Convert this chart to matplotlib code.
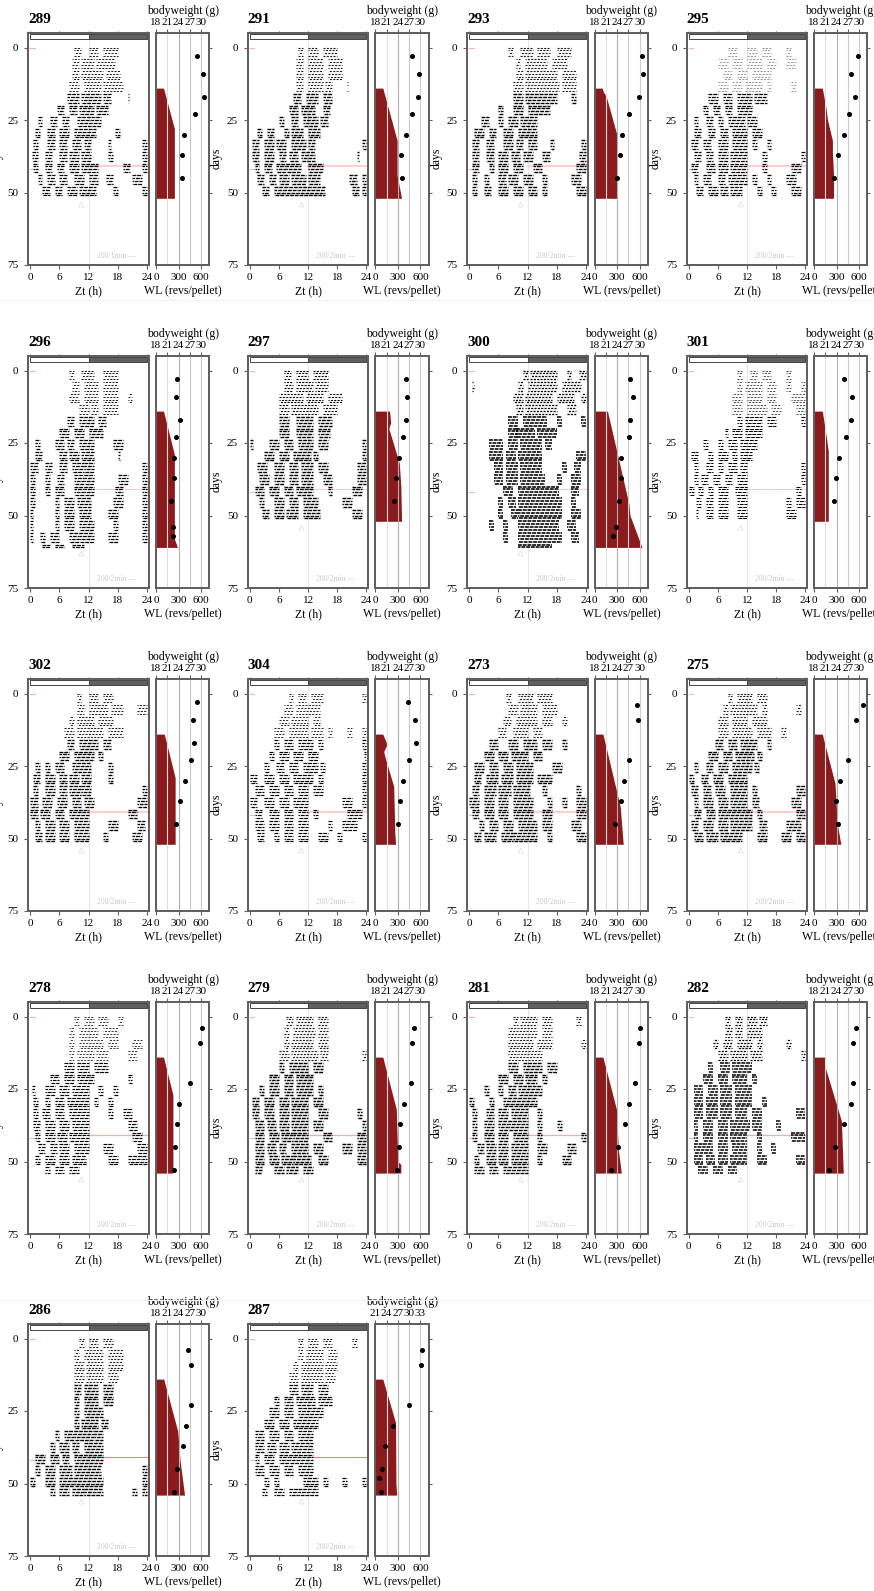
#%% Imports
import matplotlib
matplotlib.use('Agg')
import matplotlib.pyplot as plt
from matplotlib.collections import LineCollection
from matplotlib.patches import Rectangle

plt.rcParams['font.family'] = ['Liberation Serif', 'DejaVu Serif']
plt.rcParams['lines.scale_dashes'] = False

W, H = 874, 1591

#%% Data: bouts of activity (Zt hours, flat start,end pairs), one list per 4 day block
block_days = [0, 4, 8, 12, 16, 20, 24, 28, 32, 36, 40, 44, 48, 52, 56, 60]

bouts_289 = [[9,10.5,12,14,15,18],[8.5,10,10.5,13,13.5,17.5],[8.5,10,10.5,15,15.5,18.5],[8,10,11,14.5,15,19],
             [7.5,10,10.5,14.5,15,16.5,20,20.3],[5.5,7,8,9.5,10,13,13.5,16],[1.5,2.5,4,5.5,6.5,8,9.5,12.5,12.5,14.5],
             [1,2,3.5,5,6,8,9,13.5,17.5,18.5],[0.5,1.5,3.5,5,6,7.5,8.5,10.5,11,12.5,16,16.5,23,24],
             [0.3,1.5,3,4.5,6,7.5,8,10,10.5,12.5,16,17,23,24],[0.5,1.5,3,4.5,5.5,7,8,10,10.5,14,19,20.5,23,24],
             [1.5,2.5,3.5,5,6,7.5,9,11,12,14,15.5,17,21,23],[2.5,4,5,6.5,7.5,9.5,10,13.5,17,18,23,24]]
bouts_291 = [[10,11,12,14,15,18],[9.5,11,12,15,16,19],[9.5,11,12,15,16,19],[9.5,11,12,15,15.5,17,20,20.3],
             [9,10.5,11.5,14,15,17],[8,10,10.5,13.5,15,16.5],[6,7,8.5,10,11,14,14.5,16],[1.5,2.5,3.5,5,7,8,8.5,11,12,14.5],
             [0.5,2,3,5,5.5,7.5,8.5,11.5,12,13.5,23,24],[0.5,2,3,5,6,7.5,8,10,10.5,13.5,22,22.5],
             [1,2,3,4.5,5.5,7.5,7.5,10.5,12,15],[1.5,3,4,5.5,6,8,8.5,11.5,12,14.5,20.5,22,23,24],
             [2.5,4,5,7,7,10,10,15.5,21,22.5,23,24]]
bouts_293 = [[8,9,10.5,13,14,16.5,18,21],[9.5,10.5,11.5,16,17,20],[9.5,11,11.5,18,19,22],[9,11,11.5,18.5,19,22],
             [9,11,11.5,18,21,22],[6,7,9,11,12,16.5],[2.5,4,6,7,8,10,10.5,14],[1,3,4,5.5,7,9,10,14],
             [0.5,2,3.5,5,7,9,9.5,11,12,14,16.5,17.5,23,24],[0.5,2,3.5,5,6,8,8.5,10.5,11,13,15,16.5,22.5,24],
             [0.5,2,4,5,6,8,9,11,13,15,22,24],[0.5,1.5,3,4,6,7.5,8,10,11,13,15,16,21,23],
             [0.5,1.5,3,4.5,6,8,9,11,12,14,15,16,22,24]]
bouts_295 = [[8,10,12,14,15,17,20,21],[6,8,9,11,12,15,16,18,20,22],[7,9,10,12,13,17],[6,8,9,11,11.5,15,16,17,21,22],
             [4,6,7,9,10,13,13.5,16],[3,4,5,6.5,7.5,9,10,13],[1,2,3.5,5,6,7,8,11.5,12,14],[1,2.5,4,5.5,6.5,8,9,12,13,15],
             [0.5,2,3,4.5,6,8,9,12,13,14,16,17],[1,2.5,3.5,5,6,8,8.5,12,15,16,23,24],
             [0.5,2,3.5,5.5,6,8,8.5,12,15,16,21,23],[1,2,3,4.5,6,7.5,8,12,13,14,16,17,20,22],
             [1.5,3,4,6,6.5,8,8.5,11,14,15,17,18,21,23]]
bouts_296 = [[8,9,10.5,13,15,18],[8.5,10,11,14,15,18],[8,10,11,14,15,18,20,21],[10,12,12.5,14,15,18],
             [7.5,9,10,13,14,15.5],[6,8,9,11,12,15],[1,2,5,7,7.5,9,10,13,17,19],[1,2.5,6,7.5,8,10,10.5,13,18,18.5],
             [0,1.5,3,4.5,6,7.5,8.5,11,11,13,23,24],[0,1,3,4,5.5,7,9,11,11,13,18,20,23,24],
             [0,1,3,4,5,7,9,11,11,13,17.5,19,23,24],[0,1,5,6,7,9,9.5,12.5,17,19,23,24],
             [0,0.5,5,6,7,9,10,12.5,16,18,23,24],[0,0.5,5,6,7,9,10,13,17,18,23,24],
             [0,0.5,2,3,4,6,8,10,10,13,16,18,23,24],[2.5,4,5,7,8.5,11]]
bouts_297 = [[7,8.5,9.5,12,13,16],[7,9,9.5,13,13.5,16],[6,11,11.5,15,16,19],[6,8,8.5,14,15,18],
             [6,8,9.5,13,14,17],[6,8,9.5,13,14,16.5],[0,0.7,4,6,7,9,10,13,14,16,23,24],[3,5,6,8,9,12.5,13,14,23,24],
             [1.5,3.5,5,7,8,10,10.5,13,14,16,22,24],[2,4,5,7,8,10,10.5,13,15,17,22,24],
             [1,3,4,6,7,9,9.5,13,16,17,21,23],[2,3,5,7,8,10,11,14,19,21],[2.5,4,5,7,7.5,10,11,14.5,21,23]]
bouts_300 = [[11,12,12.5,18,20,21,22.5,24],[0.5,1,10,11,12,18,19,23],[9,11,11.5,17,18,21.5,23,24],[9.5,11,11.5,18,20,22],
             [8,10,11,16,18,19,23,24],[8,10,9.5,13.5,14,18],[4,7,8,10,10.5,15,15.5,17],[4,7,7.5,9.5,10,15,22,24],
             [5,7,7.5,10,10.5,15,19,20,21.5,23],[5,7,7.5,10,10.5,15.5,18,19,21,23],[7,9,10,18.5,21,22.5],
             [6,7,8,9.5,10,19,21,22],[6,7,8.5,10,10,19,21,23],[4,5,7,8,10,18.5,20,22],[7,8,10,19,21,22.5],[10,17]]
bouts_301 = [[10,11,12.5,14,15,17,20,21],[10,11,11.5,15,16,18,20,21,23,24],[9,11,12,15,16,18,21,24],[9,11,12,16,17,19,22,24],
             [10,11,11.5,15,16,18,23,24],[7.5,8,9,11,11.5,15],[3,4,6,7,8,10,10.5,14],[0.5,2,4,5,6,8,9,10,10.5,13],
             [1,2,3.5,5,6,7,8,10,10.5,12,23,24],[1,2,2.5,4,5,6.5,7.5,9,10,12,23,24],[0,1,2,3,4,5,6,8,9.5,12,22,23],
             [1.5,2.5,3.5,5,6,8,10,12,20,21,22,24],[1.5,2,3.5,5,6,8,10,12,20,22]]
bouts_302 = [[9.5,10.5,12,14,15,17],[9.5,11,12,16,16.5,19,22,24],[8,9,9.5,13,14,17],[7,9,9.5,15,16,19],
             [7.5,9,10,14,15,16.5],[6,8,9,13,14,15],[1,2,3,4,5,7,8.5,12.5,16,17],[0.5,2,3,5,6,7.5,8,10,10.5,12.5,16,17],
             [0.5,1.5,3,5,6,7.5,8,10.5,10.5,12.5,23,24],[0,1.5,2.5,4.5,5.5,7.5,8.5,10.5,11,13,22,24],
             [0,1.5,2,4,5,7,8,12,20,22],[1,2,3,5,6,8,9,12,16,18,22,23.5],[1,2.5,3,5,6,8,9,12,15,16,21,23]]
bouts_304 = [[8,9,10,11.5,12.5,15,23,24],[7,9,9.5,14.5],[6,8,8.5,12,13,14.5],[5,7,8,12,12.5,15,16,17,20,21,23,24],
             [5,6,7,9,10,13,14,15,23,24],[4,5,6,8,9,11,12,14,23.5,24],[3,4,5.5,7,8,10,11,14,14.5,15.5,23,24],
             [0,1.5,3,5,6,8,9,13,14,15,23,24],[1,3,4,6,7,9,10,12,13,15,23,24],[0,1.5,3,5,6,8,9,12,19,21,23,24],
             [1,2.5,4,6,7,9,10,12,13,14,20,23],[1,3,4,6,7,9,10,12,16,17,19,22],[1.5,3,5,6,7,9,10,12,14,16,18,19,23,24]]
bouts_273 = [[7.5,8.5,10,13,14,17],[8,10,10.5,14,15,18],[7,8.5,9.5,14,15,17,19,20],[6,7.5,9,12,13,15],
             [4,6,8,10,11,14,15,17,19,20],[3,5,6,8,8.5,12,13,15],[1,3,4,6,7,9,9.5,13,17,19],[1,2.5,3.5,6,6.5,9,9.5,13,14,17],
             [0.5,2,3,5.5,6,8.5,9,12.5,15,16,22,23],[0,2,3,5,6,8,9,13,16,17,19,20,22,24],[0.5,2,3,5,6,8,9,13,15,17,22,24],
             [2,3,4,6,7,9,10,14,15,17,21,23],[1,2.5,3,5.5,6.5,9,9,14,16,17,22,24]]
bouts_275 = [[8,9,10,13,14,16],[7,8,8.5,14,15,16,22,23],[6,8,9,12,13,16],[6,8,9,13,14,17,19,20],
             [5.5,7,8,10,10.5,14,16,17],[4,6,7,9,9.5,13.5,14,15],[1,2,3.5,5,6,8,9,13,13.5,14.5],[0,1,2.5,4,5,7,8,12],
             [0.5,2,3,4.5,5.5,7.5,8.5,12,13,14,22,24],[1,2,3,5,6,8,8.5,12,13,14.5,21,23],[1,2.5,3.5,5.5,6,8,8,13,14,15,22,24],
             [0.5,2,3,5,6,8,8.5,13,14.5,16,20,23],[1,3,3.5,6,6.5,8.5,8.5,11,14,16,19,21,22,24]]
bouts_278 = [[9,10,11,13,14,16,18,19],[8,9,10,14,15,18],[8,9,10,15,16,18,21,23],[8,9,9.5,13,13.5,16,20,22],
             [7,9,9.5,12,13,16],[4,6,7,9,9.5,13,20,21],[0.3,1,3,5,6,8,8.5,12,14,15,17,18],[0.5,1.5,3,4,5,7,7.5,12,13,14,16,17],
             [0.5,1.5,2.5,4,5,7,8,12,16,17,19,21],[0.5,2,3,5,6,8,8.5,12,20,22],[1,2,3,5,5.5,7.5,8,12,21,23],
             [1.5,3,4,5.5,6,8,9,12,15,17,22,24],[1,2,3,5,6,8,8.5,11.5,16,18,20,23,23,24],[3,4,5,7,8,10]]
bouts_279 = [[7.5,9,9.5,13,14,16],[7,8,9,13.5,14,16],[7,8,8.5,13,14,16],[6,8,8.5,14,14.5,16,23,24],
             [6,7,8,12,13,15],[4,6,7,9,9.5,13],[2,3,4,6,7,9,9.5,13,14,15],[0.5,2,3,5,6,8,8.5,12,13,15],
             [0.5,2,3,5,6,8,8.5,12,14,16,22,23],[1,3,3.5,5.5,6,8,8.5,12,13,15,23,24],[1,3,4,6,6.5,9,9,12,15,17,22,24],
             [1,3,3.5,5.5,6,7.5,8.5,12,13,15,19,21,22,24],[1,3,4,6,6.5,9,9,12.5,14,16,22,24],[1,2.5,5,7,7.5,10,11,13]]
bouts_281 = [[9,10,10.5,14,15,17,22,23],[8,10,10,14,15,17],[8,10,10,13,14,17,23,24],[8,10,10,15],
             [8,10,11,15,16,18],[6,8,9,11,11.5,14,15,16],[3,4,6,7,8,9.5,10,15],[0,1,4,5,7,9,9,14],
             [0.5,1.5,3.5,5,6,8,8.5,12,14,15],[0.5,1.5,3,5,6,8,8,12,14,15,18,19],[0.5,1.5,3,5,6,8,9,12,14,15,23,24],
             [1.5,3,3.5,5.5,6,8,8.5,12,14,16,20,22],[1,2,3.5,5.5,6,8,8.5,12,14,15,19,21],[1,3,4,6,7,9,9,12]]
bouts_282 = [[7.5,8.5,9.5,11,12,14,14.5,16],[7.5,9,9.5,11,12,15],[5,6,7,9,10,13,14,15,20,21],[6,8,8.5,12,12.5,15,23,24],
             [4,5,6.5,8.5,9,13],[3,5,6,8,9,12,13,14],[1,3,4,6,6.5,9,9.5,13],[1,3,3.5,6,6.5,9,9.5,13,15,16],
             [1,3,3.5,6,6.5,9,9.5,12,13,15,22,24],[1,2,3,5,6,8,8.5,12.5,13,15,18,19],[1,2,3,5,6,8,8.5,12,14,15,21,24],
             [1,3,3,5,6,8,9,12,14,15,17,18],[1,3,3.5,5.5,6,8,8.5,12,14,16,22,24],[2,4,5,7,8,10]]
bouts_286 = [[10,11,12,14,15,17],[9,10,11,15,16,19],[9,11,11.5,15,16,19],[9,11,11.5,15,16,18],
             [9,10.5,11,14,15,17],[9,10,11,14,15,17],[9,10,11,15],[9,10,10.5,14,14.5,16],
             [5,6,7,9,9,13,13,15],[4,5,6,8,8.5,10,11,15],[1,3,4,6,6.5,8,9,15],[1,2,3,5,6,8.5,9,14.5,23,24],
             [0,1,3,5,6,9,9,15,23,24],[4,5,6,8,8.5,11,11,15,21,22,23,24]]
bouts_287 = [[10,11,12,14,15,17,21,22],[10,11,11.5,15,16,18],[9,10,10.5,15,15.5,18],[8,10,10.5,15,15.5,17.5],
             [8,10,10.5,13,14,16],[5,6,7,9,9.5,13.5,14,17],[4,6,7,9,10,15],[3,5,6,8,9,14],
             [1,3,4,6,7,9,10,13],[1,3,3.5,5.5,6,8,8.5,13],[1,2,3,5,6,8,8,13],[1,3,4,6,7,9,10,13],
             [3,4,5,6,11,14,15,16,19,20,23,24],[2.5,3.5,5,7,8,10,10,14]]

#%% Data: wheel running per pellet, days and values of the outline
wl_days_289 = [14, 14, 28, 52]
wl_vals_289 = [0, 100, 245, 245]
wl_days_291 = [14, 14, 32, 44, 52]
wl_vals_291 = [0, 100, 290, 290, 350]
wl_days_293 = [14, 14, 15, 17, 30, 52]
wl_vals_293 = [0, 100, 110, 155, 295, 295]
wl_days_295 = [14, 14, 20, 25, 32, 36, 44, 52]
wl_vals_295 = [0, 110, 155, 180, 245, 245, 260, 260]
wl_days_296 = [14, 14, 29, 58, 61]
wl_vals_296 = [0, 100, 245, 245, 285]
wl_days_297 = [14, 14, 18, 20, 32, 40, 52]
wl_vals_297 = [0, 190, 205, 180, 320, 340, 350]
wl_days_300 = [14, 14, 46, 50, 61]
wl_vals_300 = [0, 170, 455, 470, 630]
wl_days_301 = [14, 14, 18, 24, 28, 52]
wl_vals_301 = [0, 110, 135, 170, 190, 190]
wl_days_302 = [14, 14, 16, 29, 52]
wl_vals_302 = [0, 110, 130, 255, 255]
wl_days_304 = [14, 14, 17, 18, 20, 22, 32, 48, 52]
wl_vals_304 = [0, 100, 148, 148, 112, 130, 245, 260, 270]
wl_days_273 = [14, 14, 33, 39, 52]
wl_vals_273 = [0, 110, 285, 340, 380]
wl_days_275 = [14, 14, 31, 45, 52]
wl_vals_275 = [0, 110, 280, 310, 358]
wl_days_278 = [14, 14, 27, 54]
wl_vals_278 = [0, 100, 225, 225]
wl_days_279 = [14, 14, 32, 50, 51, 54]
wl_vals_279 = [0, 100, 280, 300, 340, 340]
wl_days_281 = [14, 14, 32, 46, 54]
wl_vals_281 = [0, 110, 290, 315, 355]
wl_days_282 = [14, 14, 18, 36, 54]
wl_vals_282 = [0, 150, 155, 365, 390]
wl_days_286 = [14, 14, 32, 42, 54]
wl_vals_286 = [0, 103, 290, 320, 380]
wl_days_287 = [14, 14, 29, 50, 54]
wl_vals_287 = [0, 100, 270, 275, 285]

#%% Data: bodyweight
bw_days_a = [3, 9, 17, 23, 30, 37, 45]
bw_days_b = [4, 9, 23, 30, 37, 45]
bw_days_c = [4, 9, 23, 30, 37, 45, 53]
bw_days_296 = [3, 9, 17, 23, 30, 37, 45, 54, 57]
bw_days_287 = [4, 9, 23, 30, 37, 45, 48, 53]
bw_289 = [28.9, 30.4, 30.8, 28.5, 25.5, 24.9, 24.8]
bw_291 = [27.7, 29.6, 29.5, 27.7, 26.1, 24.9, 25.2]
bw_293 = [30.5, 30.9, 29.7, 27.1, 25.2, 24.8, 23.9]
bw_295 = [29.7, 27.9, 29.0, 27.3, 25.9, 24.4, 23.3]
bw_296 = [23.7, 23.4, 24.4, 23.3, 22.8, 22.7, 22.0, 22.6, 22.6]
bw_297 = [26.1, 26.5, 26.2, 25.3, 24.3, 23.5, 23.0]
bw_300 = [27.3, 28.1, 27.4, 27.1, 24.9, 24.9, 24.4, 23.7, 23.0]
bw_301 = [26.0, 28.1, 27.9, 26.4, 24.6, 23.8, 23.4]
bw_302 = [29.0, 27.9, 28.1, 27.4, 25.8, 24.4, 23.2]
bw_304 = [26.6, 28.7, 28.8, 27.1, 25.5, 24.6, 24.1]
bw_273 = [29.2, 29.6, 27.1, 25.7, 25.0, 23.4]
bw_275 = [31.0, 29.1, 27.1, 24.8, 23.8, 24.3]
bw_278 = [30.3, 29.7, 27.0, 24.0, 23.6, 23.1, 22.7]
bw_279 = [28.3, 27.9, 27.4, 25.6, 24.6, 24.4, 23.8]
bw_281 = [30.0, 29.7, 28.8, 27.2, 26.0, 24.3, 22.3]
bw_282 = [29.1, 28.3, 28.5, 27.8, 25.9, 23.7, 21.9]
bw_286 = [26.5, 27.4, 27.3, 25.9, 25.1, 23.5, 22.8]
bw_287 = [33.5, 33.2, 30.1, 25.8, 23.5, 22.9, 22.1, 22.6]

# name, last day, bouts, wl days, wl vals, bw days, bw, left weight, line width, early colour, red line colour, red line width
panels = [
    ('289', 52, bouts_289, wl_days_289, wl_vals_289, bw_days_a, bw_289, 18, 0.9, '#222222', '#ffd0d0', 1.6),
    ('291', 52, bouts_291, wl_days_291, wl_vals_291, bw_days_a, bw_291, 18, 1.0, '#222222', '#ffd0d0', 1.6),
    ('293', 52, bouts_293, wl_days_293, wl_vals_293, bw_days_a, bw_293, 18, 1.0, '#222222', '#ffd0d0', 1.6),
    ('295', 52, bouts_295, wl_days_295, wl_vals_295, bw_days_a, bw_295, 18, 0.9, '#999999', '#ffd0d0', 1.6),
    ('296', 61, bouts_296, wl_days_296, wl_vals_296, bw_days_296, bw_296, 18, 0.9, '#222222', '#ffc8c8', 0.7),
    ('297', 52, bouts_297, wl_days_297, wl_vals_297, bw_days_a, bw_297, 18, 1.0, '#000000', '#ffc8c8', 0.7),
    ('300', 61, bouts_300, wl_days_300, wl_vals_300, bw_days_296, bw_300, 18, 1.15, '#000000', '#ffc8c8', 0.7),
    ('301', 52, bouts_301, wl_days_301, wl_vals_301, bw_days_a, bw_301, 18, 0.75, '#333333', '#ffc8c8', 0.7),
    ('302', 52, bouts_302, wl_days_302, wl_vals_302, bw_days_a, bw_302, 18, 0.95, '#222222', '#ffd0d0', 1.6),
    ('304', 52, bouts_304, wl_days_304, wl_vals_304, bw_days_a, bw_304, 18, 0.85, '#222222', '#ffd0d0', 1.6),
    ('273', 52, bouts_273, wl_days_273, wl_vals_273, bw_days_b, bw_273, 18, 1.0, '#222222', '#ffd0d0', 1.6),
    ('275', 52, bouts_275, wl_days_275, wl_vals_275, bw_days_b, bw_275, 18, 1.0, '#222222', '#ffd0d0', 1.6),
    ('278', 54, bouts_278, wl_days_278, wl_vals_278, bw_days_c, bw_278, 18, 0.85, '#333333', '#ffa8a8', 0.9),
    ('279', 54, bouts_279, wl_days_279, wl_vals_279, bw_days_c, bw_279, 18, 1.05, '#222222', '#ffa8a8', 0.9),
    ('281', 54, bouts_281, wl_days_281, wl_vals_281, bw_days_c, bw_281, 18, 1.0, '#222222', '#ffa8a8', 0.9),
    ('282', 54, bouts_282, wl_days_282, wl_vals_282, bw_days_c, bw_282, 18, 1.1, '#000000', '#ffa8a8', 0.9),
    ('286', 54, bouts_286, wl_days_286, wl_vals_286, bw_days_c, bw_286, 18, 1.0, '#222222', '#f08080', 0.8),
    ('287', 54, bouts_287, wl_days_287, wl_vals_287, bw_days_287, bw_287, 21, 0.9, '#222222', '#f08080', 0.8),
]

left_x = [28.3, 247.7, 467.3, 686.7]
right_x = [156, 375.3, 594.7, 814]
top_y = [33, 356, 679, 1002, 1324]
scale_text = ['200/1min —', '200/2min —', '200/2min —', '200/2min —', '200/2min —', '200/2min —', '200/2min —', '200/2min —',
              '200/2min —', '200/2min —', '200/2min —', '200/2min —', '200/2min —', '200/2min —', '200/2min —', '200/2min —',
              '200/2min —', '200/2min —']
spine = '#5f5f5f'
red = '#8a1a1c'


def make_ax(x, y, w, h):
    return fig.add_axes([x / W, 1 - (y + h) / H, w / W, h / H])


#%% Plot
fig = plt.figure(figsize=(W / 100, H / 100), dpi=100)

for i, p in enumerate(panels):
    name, last, bouts, wl_d, wl_v, bw_d, bw, bw0, lw, early, line_c, line_w = p
    row, col = i // 4, i % 4
    y0 = top_y[row]

    # actogram
    ax = make_ax(left_x[col], y0, 120.5, 232)
    ax.set_xlim(-0.4, 24.35)
    ax.set_ylim(75, -5)
    ax.plot([12, 12], [-3, 75], color='#e6e6e6', lw=0.8, zorder=1)
    segs, styles, widths, colors = [], [], [], []
    for start, group in zip(block_days, bouts):
        for day in range(start, min(start + 4, last + 1)):
            for a, b in zip(group[0::2], group[1::2]):
                segs.append([(a, day), (b, day)])
                if day < 16:
                    styles.append((day % 3 * 0.7, (1.5, 0.9)))
                    widths.append(lw * 0.8)
                    colors.append(early)
                else:
                    styles.append((day % 4 * 0.9, (2.8, 0.6)))
                    widths.append(lw)
                    colors.append('black')
    ax.add_collection(LineCollection(segs, linewidths=widths, colors=colors, linestyles=styles, zorder=3))
    ax.plot([12, 24.35], [41, 41], color=line_c, lw=line_w, zorder=2)
    ax.plot([0, 0.9], [0, 0], color='#ffb0b0', lw=0.8, zorder=2)
    ax.plot([0, 0.9], [42, 42], color='#ffb0b0', lw=0.8, zorder=2)
    ax.plot([10.5], [last + 2], marker='^', ms=3.5, mfc='none', mec='#dddddd', mew=0.5, zorder=2)
    ax.add_patch(Rectangle((0, -4.7), 12, 1.6, fc='white', ec='#444444', lw=0.7, zorder=4))
    ax.add_patch(Rectangle((12, -4.7), 12, 1.6, fc='#606060', ec='#444444', lw=0.7, zorder=4))
    ax.text(21.7, 72, scale_text[i], color='#c8c8c8', fontsize=5.5, ha='right', va='center')
    ax.set_xticks([0, 6, 12, 18, 24])
    ax.set_xticklabels(['0', '6', '12', '18', '24'])
    ax.set_yticks([0, 25, 50, 75])
    ax.tick_params(length=3, width=0.8, color=spine, labelsize=8, pad=3)
    ax.tick_params(axis='y', pad=4)
    top = ax.twiny()
    top.set_xlim(ax.get_xlim())
    top.set_xticks([0, 6, 12, 18, 24])
    top.set_xticklabels([])
    top.tick_params(length=1.5, width=0.8, color=spine)
    for a in (ax, top):
        for s in a.spines.values():
            s.set_color(spine)
            s.set_linewidth(1.3)
    ax.set_xlabel('Zt (h)', fontsize=8.5, labelpad=2)
    ax.set_ylabel('days', fontsize=8.5, labelpad=3, y=0.46)
    ax.set_title(name, loc='left', fontsize=11, fontweight='bold', pad=7, x=0.0)

    # wheel running and bodyweight
    wl = make_ax(right_x[col], y0, 53.3, 232)
    wl.set_xlim(0, 710)
    wl.set_ylim(75, -5)
    wl.fill_betweenx(wl_d + [last], wl_v + [wl_v[-1]], 0, color=red, lw=0, zorder=2)
    for g, c in zip([150, 300, 450, 600], ['#dddddd', '#b0b0b0', '#cccccc', '#cccccc']):
        wl.axvline(g, color=c, lw=0.8, zorder=3)
    wl.set_xticks([0, 300, 600])
    wl.set_xticklabels(['0', '300', '600'])
    wl.set_yticks([0, 25, 50])
    wl.set_yticklabels([])
    wl.yaxis.tick_right()
    wl.tick_params(axis='y', length=2.5, width=0.8, color=spine, direction='out')
    wl.tick_params(axis='x', length=3, width=0.8, color=spine, labelsize=8, pad=3)
    wl.set_xlabel('WL (revs/pellet)', fontsize=8.5, labelpad=2)
    bwax = wl.twiny()
    bwax.set_xlim(bw0, bw0 + 710 * 0.02)
    bwax.plot(bw, bw_d, 'o', color='black', ms=2.6, zorder=5)
    bwax.set_ylim(75, -5)
    bwax.set_xticks([bw0 + 3 * k for k in range(5)])
    bwax.tick_params(length=3, width=0.8, color=spine, labelsize=8, pad=1.5)
    bwax.set_xlabel('bodyweight (g)', fontsize=8.5, labelpad=3)
    for a in (wl, bwax):
        for s in a.spines.values():
            s.set_color(spine)
            s.set_linewidth(1.3)

fig.add_artist(plt.Line2D([0, 1], [1 - 300 / H, 1 - 300 / H], color='#f2f2f2', lw=0.8))
fig.add_artist(plt.Line2D([0, 1], [1 - 1300 / H, 1 - 1300 / H], color='#f2f2f2', lw=0.8))

fig.savefig('out.png', dpi=100)
